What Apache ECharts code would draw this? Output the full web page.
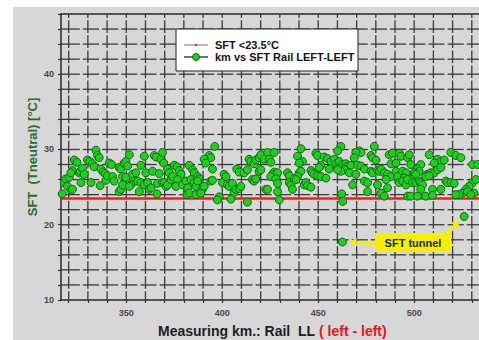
<!DOCTYPE html>
<html>
<head>
<meta charset="utf-8">
<script src="https://cdn.jsdelivr.net/npm/echarts@6/dist/echarts.min.js"></script>
<style>
  html, body { margin: 0; padding: 0; background: #fff; }
  #chart { width: 479px; height: 340px; }
</style>
</head>
<body>
<div id="chart"></div>
<script>
// Stress-free temperature of the left rail, by measuring kilometre
const seg316to351 = [
  [316.6,24.1],[317.7,25.6],[318.5,26.1],[319.4,25.1],[320.3,26.3],[321.1,24.6],[322.0,24.7],[322.0,27.2],
  [321.1,26.9],[322.9,28.6],[324.3,28.3],[325.5,26.9],[326.0,27.1],[326.4,25.6],[327.2,27.5],[328.1,26.7],
  [329.8,28.6],[331.0,28.4],[331.6,25.6],[332.4,28.1],[333.3,27.7],[334.2,29.9],[335.0,29.2],[335.9,28.9],
  [336.4,25.2],[336.8,27.4],[338.0,27.0],[339.0,26.8],[339.4,25.9],[340.2,26.5],[341.1,28.2],[342.3,28.0],
  [342.9,26.4],[343.7,25.8],[346.3,27.6],[347.2,27.4],[346.3,24.4],[347.2,24.7],[348.1,26.4],[348.1,25.3],
  [348.9,28.2],[349.8,28.4],[349.8,26.3],[350.7,27.8]
];
const seg351to387 = [
  [351.6,29.3],[359.4,29.1],[364.6,29.2],[365.5,29.0],[368.1,28.7],[368.9,29.6],[369.5,28.2],[357.6,27.9],
  [360.2,26.9],[363.7,27.1],[367.2,26.8],[371.5,27.4],[372.4,26.9],[375.0,27.9],[376.4,27.7],[377.6,27.2],
  [378.5,26.7],[382.8,27.9],[384.6,27.3],[385.4,26.9],[387.2,26.4],[353.3,26.7],[355.0,26.9],[354.2,25.8],
  [355.9,25.8],[357.6,25.6],[359.4,25.3],[361.1,25.6],[362.0,24.7],[362.9,24.9],[356.8,24.4],[366.3,25.5],
  [366.0,24.1],[368.9,25.6],[369.8,25.6],[370.7,25.1],[371.5,25.3],[373.3,26.0],[374.1,26.4],[376.7,26.0],
  [375.9,25.1],[379.3,25.3],[381.1,25.8],[382.0,24.9],[381.6,24.0],[382.8,24.2],[383.7,26.0],[385.4,25.6],
  [386.3,25.1],[386.3,24.0],[352.4,25.3],[351.6,25.1]
];
const seg387to424 = [
  [396.1,30.4],[393.2,29.2],[394.0,28.9],[390.6,28.7],[391.4,28.2],[394.9,27.4],[388.0,26.1],[387.1,25.8],
  [389.7,24.7],[388.8,24.2],[394.0,25.8],[394.9,25.9],[400.1,25.6],[401.0,26.7],[401.9,26.4],[402.7,25.3],
  [403.6,25.1],[405.3,25.5],[406.2,24.3],[407.1,24.7],[408.8,24.8],[409.7,25.1],[407.6,27.4],[408.8,27.0],
  [411.4,26.9],[413.1,27.3],[414.0,28.7],[414.9,28.4],[416.6,28.1],[417.5,28.6],[419.2,28.9],[420.1,29.3],
  [423.6,29.6],[419.2,27.1],[420.1,27.3],[415.7,26.0],[416.6,25.8],[417.5,26.1],[422.7,24.7],[398.4,23.7],
  [397.5,23.3],[404.5,23.4],[413.1,23.0],[390.6,25.1],[421.8,28.7]
];
const seg424to460 = [
  [427.1,29.6],[424.5,28.7],[425.3,28.3],[441.0,30.1],[439.2,29.1],[441.8,28.4],[440.1,28.2],[448.8,29.5],
  [449.6,29.2],[453.1,29.0],[454.9,28.8],[456.6,28.4],[458.3,28.7],[459.2,28.1],[460.1,27.6],[451.4,27.9],
  [450.5,27.6],[455.7,27.4],[446.2,27.2],[447.0,26.9],[447.9,26.7],[449.6,26.5],[451.4,26.4],[454.0,26.2],
  [427.1,27.0],[426.2,26.7],[425.3,26.4],[428.8,26.9],[427.9,26.1],[434.0,26.9],[434.9,26.5],[440.1,26.9],
  [441.0,27.1],[439.2,26.4],[428.8,25.5],[434.9,25.6],[435.8,25.3],[437.5,26.1],[438.4,26.0],[436.6,24.7],
  [442.7,25.3],[443.6,25.6],[444.4,25.2],[446.2,25.0],[428.8,24.4],[423.6,24.7],[429.7,23.3]
];
const seg460to497 = [
  [461.8,30.4],[460.1,29.8],[471.4,29.8],[472.3,29.6],[469.6,29.6],[468.8,28.9],[479.2,30.4],[477.5,29.2],
  [478.3,28.9],[480.1,28.6],[487.0,29.3],[488.7,29.5],[492.2,29.5],[493.1,29.1],[496.6,28.9],[487.9,28.1],
  [490.5,28.2],[461.0,28.4],[462.7,28.0],[464.4,28.1],[465.3,27.8],[463.6,27.3],[461.8,27.1],[460.1,27.3],
  [467.0,27.9],[470.5,27.9],[472.3,27.8],[474.0,27.4],[477.5,27.1],[478.3,26.9],[480.9,27.2],[481.8,27.1],
  [482.7,27.4],[484.4,26.9],[486.1,26.7],[487.9,26.4],[490.5,27.1],[491.4,26.4],[494.0,27.1],[495.7,26.9],
  [494.8,26.2],[466.2,26.9],[469.6,26.7],[474.0,25.8],[475.7,25.6],[467.9,25.3],[475.7,24.4],[480.9,25.3],
  [485.3,26.0],[486.1,24.9],[482.7,24.2],[484.4,23.8],[492.2,25.6],[494.0,25.8],[495.7,25.3],[462.2,24.1],
  [496.6,23.8],[462.8,23.1]
];
const seg497to533 = [
  [497.4,29.3],[507.8,29.3],[519.1,29.6],[521.7,29.2],[524.3,28.9],[530.4,28.0],[533.0,28.0],[512.1,28.7],
  [513.9,28.4],[515.6,28.6],[510.4,28.2],[498.2,28.0],[503.4,28.0],[501.7,27.4],[502.6,27.1],[500.0,26.9],
  [500.8,26.7],[506.9,26.7],[508.7,26.9],[510.4,26.9],[512.1,27.3],[513.9,27.6],[498.2,26.0],[496.5,26.0],
  [499.1,25.6],[500.8,25.6],[502.6,25.8],[503.4,25.6],[504.3,25.3],[506.0,26.4],[507.8,26.5],[516.5,25.8],
  [517.3,25.6],[519.1,25.6],[520.8,25.5],[530.4,25.6],[532.1,26.0],[509.5,24.7],[503.4,24.7],[513.9,24.7],
  [528.6,25.1],[526.9,24.7],[525.1,24.2],[523.4,24.0],[521.7,24.0],[527.7,24.4],[531.2,24.2],[529.5,24.0],
  [498.2,23.8],[501.7,23.8],[506.0,23.8],[509.5,23.9]
];
// Readings inside the tunnels
const tunnelPoints = [[462.6,17.7],[526.0,21.1]];

const sftLimit = 23.5;
const kmRange = [316, 540];
const sftRange = [10, 48];
const kmLabels = [350, 400, 450, 500];
const sftLabels = [10, 20, 30, 40];
const kmGridLines = [320,330,340,350,360,370,380,390,400,410,420,430,440,450,460,470,480,490,500,510,520,530];
const sftGridLines = [12,14,16,18,20,22,24,26,28,30,32,34,36,38,40,42,44,46];

const FONT = '"Liberation Sans", Arial, sans-serif';
const GRID_COLOR = '#3a3a3a';
const GRID_WIDTH = 1.3;
const YELLOW = '#f4f000';

const railPoints = [].concat(seg316to351, seg351to387, seg387to424, seg424to460, seg460to497, seg497to533, tunnelPoints);
const kmStops = [kmRange[0]].concat(kmGridLines, [kmRange[1]]);
const sftStops = [sftRange[0]].concat(sftGridLines, [sftRange[1]]);

// Grid lines are broken once per cell, a little past the middle of it
function brokenSegment(a, b, withGap) {
  const line = (p, q) => ({
    type: 'line', silent: true,
    shape: { x1: p[0], y1: p[1], x2: q[0], y2: q[1] },
    style: { stroke: GRID_COLOR, lineWidth: GRID_WIDTH }
  });
  if (!withGap) return [line(a, b)];
  const at = t => [a[0] + (b[0] - a[0]) * t, a[1] + (b[1] - a[1]) * t];
  return [line(a, at(0.58)), line(at(0.74), b)];
}
function verticalGrid(coord, km) {
  let out = [];
  for (let i = 0; i < sftStops.length - 1; i++) {
    out = out.concat(brokenSegment(coord([km, sftStops[i]]), coord([km, sftStops[i + 1]]), true));
  }
  return out;
}
function horizontalGrid(coord, sft) {
  let out = [];
  for (let i = 0; i < kmStops.length - 1; i++) {
    const full = i > 0 && i < kmStops.length - 2;
    out = out.concat(brokenSegment(coord([kmStops[i], sft]), coord([kmStops[i + 1], sft]), full));
  }
  return out;
}

// Call-out box and the arrows that run from it to the tunnel readings
const noteBox = { x: 375, y: 233, w: 76, h: 19 };
const arrowTails = [[noteBox.x + 2, noteBox.y + 11], [noteBox.x + noteBox.w - 6, noteBox.y + 1]];
const arrowTipOffsets = [[6, 0], [-4, 4]];
function arrowShapes(from, to) {
  const dx = to[0] - from[0], dy = to[1] - from[1];
  const len = Math.hypot(dx, dy);
  const ux = dx / len, uy = dy / len;
  const head = 8, half = 4.5;
  const base = [to[0] - ux * head, to[1] - uy * head];
  return [
    { type: 'line', silent: true,
      shape: { x1: from[0], y1: from[1], x2: base[0], y2: base[1] },
      style: { stroke: YELLOW, lineWidth: 3 } },
    { type: 'polygon', silent: true,
      shape: { points: [to, [base[0] - uy * half, base[1] + ux * half], [base[0] + uy * half, base[1] - ux * half]] },
      style: { fill: YELLOW } }
  ];
}

const chart = echarts.init(document.getElementById('chart'), null, { renderer: 'svg' });

chart.setOption({
  animation: false,
  backgroundColor: '#d7d7d7',
  grid: { left: 61, top: 14, width: 430, height: 286, show: false, outerBoundsMode: 'none', containLabel: false },
  xAxis: [
    {
      type: 'value', min: kmRange[0], max: kmRange[1],
      axisLine: { show: true, lineStyle: { color: '#2a2a2a', width: 1.5 } },
      axisTick: { show: true, customValues: kmGridLines, length: 3, lineStyle: { color: '#333', width: 1.2 } },
      axisLabel: { customValues: kmLabels, margin: 8, color: '#4a4a4a', fontSize: 9, fontWeight: 'bold', fontFamily: FONT },
      splitLine: { show: false }
    },
    {
      // frame along the top edge
      type: 'value', position: 'top', min: kmRange[0], max: kmRange[1],
      axisLine: { show: true, lineStyle: { color: '#2a2a2a', width: 1.5 } },
      axisTick: { show: false }, axisLabel: { show: false }, splitLine: { show: false }
    }
  ],
  yAxis: {
    type: 'value', min: sftRange[0], max: sftRange[1], interval: 2,
    axisLine: { show: true, lineStyle: { color: '#2a2a2a', width: 1.5 } },
    axisTick: { show: true, length: 3, lineStyle: { color: '#333', width: 1.2 } },
    axisLabel: {
      formatter: v => (sftLabels.includes(v) ? String(v) : ''),
      margin: 7, color: '#4a4a4a', fontSize: 9, fontWeight: 'bold', fontFamily: FONT
    },
    splitLine: { show: false }
  },
  series: [
    {
      name: 'km grid', type: 'custom', silent: true, z: 1,
      data: kmGridLines.map(v => [v, sftRange[0]]),
      renderItem: (params, api) => ({ type: 'group', children: verticalGrid(api.coord, api.value(0)) })
    },
    {
      name: 'SFT grid', type: 'custom', silent: true, z: 1,
      data: sftGridLines.map(v => [kmRange[0], v]),
      renderItem: (params, api) => ({ type: 'group', children: horizontalGrid(api.coord, api.value(1)) })
    },
    {
      name: 'SFT <23.5°C', type: 'line', data: [], silent: true,
      markLine: {
        z: 2, silent: true, animation: false, symbol: ['none', 'none'], label: { show: false },
        lineStyle: { color: '#ff1a1a', width: 2.5, type: 'solid' },
        emphasis: { disabled: true },
        data: [{ yAxis: sftLimit }]
      }
    },
    {
      name: 'km vs SFT Rail LEFT-LEFT', type: 'scatter', z: 3,
      data: railPoints, symbol: 'circle', symbolSize: 8,
      itemStyle: { color: '#22cc22', borderColor: '#0b6e0b', borderWidth: 1, opacity: 1 }
    },
    {
      name: 'SFT tunnel', type: 'custom', silent: true, z: 4,
      data: tunnelPoints,
      renderItem: (params, api) => {
        const p = api.coord([api.value(0), api.value(1)]);
        const off = arrowTipOffsets[params.dataIndex];
        return { type: 'group', children: arrowShapes(arrowTails[params.dataIndex], [p[0] + off[0], p[1] + off[1]]) };
      }
    }
  ],
  graphic: [
    // white margin of the sheet
    { type: 'rect', z: 30, silent: true, shape: { x: 0, y: 0, width: 479, height: 7 }, style: { fill: '#ffffff' } },
    { type: 'rect', z: 30, silent: true, shape: { x: 0, y: 0, width: 13, height: 340 }, style: { fill: '#ffffff' } },

    // legend
    { type: 'rect', z: 20, silent: true, shape: { x: 176, y: 29, width: 182, height: 42 },
      style: { fill: '#ffffff', stroke: '#222', lineWidth: 1 } },
    { type: 'line', z: 21, silent: true, shape: { x1: 184, y1: 45, x2: 208, y2: 45 }, style: { stroke: '#8a8a8a', lineWidth: 1.2 } },
    { type: 'rect', z: 21, silent: true, shape: { x: 195, y: 44, width: 2, height: 2 }, style: { fill: '#ff1a1a' } },
    { type: 'text', z: 21, silent: true, x: 215, y: 45,
      style: { text: 'SFT <23.5°C', fill: '#151515', font: 'bold 11px ' + FONT, align: 'left', verticalAlign: 'middle' } },
    { type: 'line', z: 21, silent: true, shape: { x1: 184, y1: 57, x2: 208, y2: 57 }, style: { stroke: '#151515', lineWidth: 1.2 } },
    { type: 'circle', z: 22, silent: true, shape: { cx: 196, cy: 57, r: 3.5 }, style: { fill: '#22cc22', stroke: '#0b6e0b', lineWidth: 1 } },
    { type: 'text', z: 21, silent: true, x: 215, y: 57,
      style: { text: 'km vs SFT Rail LEFT-LEFT', fill: '#151515', font: 'bold 11px ' + FONT, align: 'left', verticalAlign: 'middle' } },

    // axis titles
    { type: 'text', z: 21, silent: true, x: 32, y: 157, rotation: Math.PI / 2,
      style: { text: 'SFT  (Tneutral) [°C]', fill: '#2f6b2f', font: 'bold 13px ' + FONT, align: 'center', verticalAlign: 'middle' } },
    { type: 'text', z: 21, silent: true, x: 158, y: 331,
      style: {
        text: '{a|Measuring km.: Rail  LL} {r|( left - left)}',
        font: 'bold 14px ' + FONT, align: 'left', verticalAlign: 'middle',
        rich: {
          a: { fill: '#1e1e1e', font: 'bold 14px ' + FONT },
          r: { fill: '#e8141e', font: 'bold 14px ' + FONT }
        }
      } },

    // tunnel call-out
    { type: 'rect', z: 20, silent: true, shape: { x: noteBox.x, y: noteBox.y, width: noteBox.w, height: noteBox.h },
      style: { fill: YELLOW } },
    { type: 'text', z: 21, silent: true, x: noteBox.x + noteBox.w / 2, y: noteBox.y + noteBox.h / 2,
      style: { text: 'SFT tunnel', fill: '#1a1a1a', font: 'bold 11px ' + FONT, align: 'center', verticalAlign: 'middle' } }
  ]
});
</script>
</body>
</html>
